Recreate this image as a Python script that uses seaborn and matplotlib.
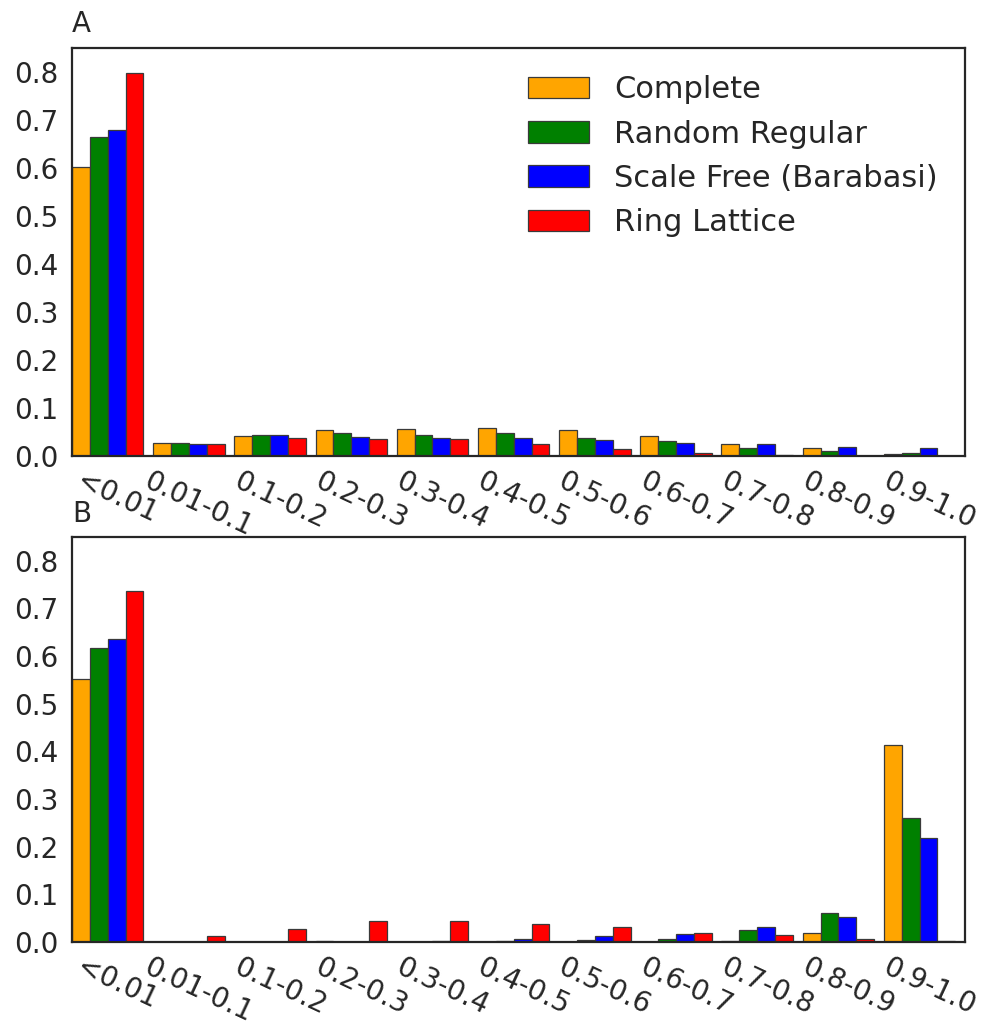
import numpy as np
import pandas as pd
import matplotlib
matplotlib.use("Agg")
import matplotlib.pyplot as plt
from matplotlib.patches import Patch
import seaborn as sns

categories = ["<0.01", "0.01-0.1", "0.1-0.2", "0.2-0.3", "0.3-0.4", "0.4-0.5",
              "0.5-0.6", "0.6-0.7", "0.7-0.8", "0.8-0.9", "0.9-1.0"]
series_names = ["Complete", "Random Regular", "Scale Free (Barabasi)", "Ring Lattice"]
colors = ["#FFA500", "#008000", "#0000FF", "#FF0000"]

# Panel A
a_complete = [0.601, 0.027, 0.042, 0.054, 0.056, 0.058, 0.054, 0.041, 0.026, 0.017, 0.005]
a_random   = [0.665, 0.028, 0.044, 0.048, 0.044, 0.048, 0.038, 0.031, 0.017, 0.010, 0.0055]
a_scale    = [0.678, 0.024, 0.044, 0.040, 0.037, 0.038, 0.033, 0.027, 0.025, 0.019, 0.016]
a_ring     = [0.798, 0.024, 0.0375, 0.035, 0.035, 0.026, 0.014, 0.007, 0.002, 0.0, 0.0]

# Panel B
b_complete = [0.551, 0.0, 0.0, 0.001, 0.0, 0.0, 0.0, 0.0, 0.002, 0.018, 0.4125]
b_random   = [0.616, 0.0, 0.0, 0.0, 0.0, 0.002, 0.004, 0.007, 0.026, 0.060, 0.260]
b_scale    = [0.635, 0.0, 0.0, 0.0, 0.003, 0.006, 0.012, 0.016, 0.031, 0.052, 0.219]
b_ring     = [0.737, 0.012, 0.028, 0.043, 0.044, 0.037, 0.032, 0.019, 0.014, 0.0055, 0.001]

yticks = [0.0, 0.1, 0.2, 0.3, 0.4, 0.5, 0.6, 0.7, 0.8]
panel_titles = ["A", "B"]

sns.set_style("white")
plt.rcParams["font.family"] = ["DejaVu Sans"]
txt_color = "#262626"

def long_df(vals):
    rows = []
    for name, v in zip(series_names, vals):
        for c, y in zip(categories, v):
            rows.append({"bin": c, "network": name, "value": y})
    return pd.DataFrame(rows)

fig = plt.figure(figsize=(9.84, 10.27), dpi=100)
positions = [[0.0732, 0.556, 0.9075, 0.3975], [0.0732, 0.0828, 0.9075, 0.3945]]
panels = [[a_complete, a_random, a_scale, a_ring], [b_complete, b_random, b_scale, b_ring]]

for i, (pos, vals, title) in enumerate(zip(positions, panels, panel_titles)):
    ax = fig.add_axes(pos)
    df = long_df(vals)
    sns.barplot(data=df, x="bin", y="value", hue="network", order=categories,
                hue_order=series_names, palette=colors, width=0.88, errorbar=None,
                edgecolor="#3a3a3a", linewidth=0.9, saturation=1, legend=False, ax=ax)
    n = len(categories)
    ax.set_xlim(-0.44, n - 0.44)
    ax.set_ylim(0, 0.85)
    ax.set_xticks(np.arange(n) + 0.12)
    ax.set_xticklabels(categories, rotation=-25, ha="center", va="top",
                       fontsize=20, color=txt_color)
    ax.set_yticks(yticks)
    ax.set_yticklabels([f"{t:.1f}" for t in yticks], fontsize=20, color=txt_color)
    ax.tick_params(axis="y", length=0, pad=10)
    ax.tick_params(axis="x", length=0, pad=8)
    ax.set_xlabel("")
    ax.set_ylabel("")
    for s in ax.spines.values():
        s.set_visible(True)
        s.set_color(txt_color)
        s.set_linewidth(1.6)
    ax.set_title(title, loc="left", fontsize=20, color=txt_color, pad=11)
    if i == 0:
        handles = [Patch(facecolor=c, edgecolor="#3a3a3a", linewidth=0.9) for c in colors]
        ax.legend(handles, series_names, loc="upper right", frameon=False,
                  fontsize=22, labelcolor=txt_color)

fig.savefig("out.png", dpi=100)
